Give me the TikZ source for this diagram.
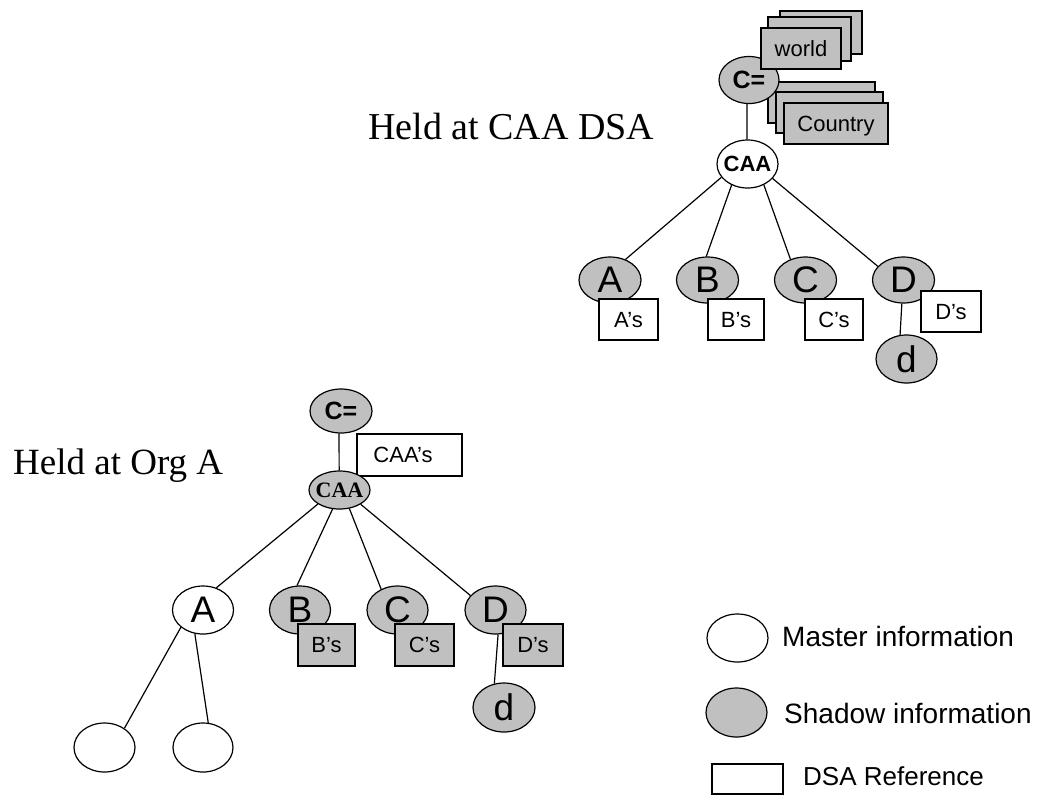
\documentclass[tikz,border=0pt]{standalone}
\usepackage{fontspec}
\setmainfont{Liberation Serif}
\setsansfont{Liberation Sans}
\usetikzlibrary{shapes.geometric}
\newcommand{\fsz}[1]{\fontsize{#1}{#1}\selectfont}
\newcommand{\zb}[1]{\makebox[0pt]{#1}}
\definecolor{shgray}{HTML}{C0C0C0}
\begin{document}
\begin{tikzpicture}[x=1pt,y=-1pt,
  ell/.style={ellipse, draw, line width=1.2pt, inner sep=0pt, minimum width=61pt, minimum height=48pt, font=\sffamily\fsz{37}},
  shell/.style={ell, fill=shgray},
  msell/.style={ell, fill=white},
  dsaref/.style={rectangle, draw, line width=1.2pt, inner sep=0pt, minimum height=41pt, text depth=0pt, font=\sffamily\fsz{22}, fill=white},
  shref/.style={dsaref, fill=shgray},
  conn/.style={line width=1.2pt},
  title/.style={anchor=base west, inner sep=0pt, font=\rmfamily\fsz{38}},
  legtext/.style={anchor=base west, inner sep=0pt, font=\sffamily\fsz{28}}
]
\useasboundingbox (0,0) rectangle (1038,796);

% ---------- Held at CAA DSA ----------
\node[title] (t1) at (368,139) {Held at CAA DSA};

\node[shref, minimum width=107pt] (k3) at (821.5,102.5) {};
\node[shref, minimum width=107pt] (k2) at (829.5,112.5) {};
\node[shref, minimum width=104pt] (k1) at (836,123.5) {Country};

\node[shell, minimum width=60pt, minimum height=47pt, font=\sffamily\bfseries\fsz{25}] (ceq1) at (749,80) {\zb{C=}};

\node[shref, minimum width=82pt, minimum height=43pt] (w3) at (821,32.5) {};
\node[shref, minimum width=83pt, minimum height=44pt] (w2) at (809.5,39) {};
\node[shref, minimum width=80pt] (w1) at (801,48.5) {world};

\node[msell, font=\sffamily\bfseries\fsz{22}] (caa1) at (747.5,164) {\zb{CAA}};

\node[shell, minimum width=62pt, minimum height=46pt] (a1) at (610,280) {\zb{A}};
\node[shell, minimum width=62pt, minimum height=46pt] (b1) at (707.5,280) {\zb{B}};
\node[shell, minimum width=62pt, minimum height=46pt] (c1) at (805.5,280) {\zb{C}};
\node[shell, minimum width=62pt, minimum height=46pt] (d1) at (903.5,280) {\zb{D}};
\node[shell] (dd1) at (906.5,359) {\zb{d}};

\node[dsaref, minimum width=59pt] (ar1) at (628.5,319.5) {A’s};
\node[dsaref, minimum width=56pt] (br1) at (736,319.5) {B’s};
\node[dsaref, minimum width=58pt] (cr1) at (834,319.5) {C’s};
\node[dsaref, minimum width=60pt] (dr1) at (951,311.5) {D’s};

\draw[conn] (ceq1.265) -- (caa1.91);
\draw[conn] (caa1.207) -- (a1.53);
\draw[conn] (caa1.233) -- (b1.93);
\draw[conn] (caa1.308) -- (c1.126);
\draw[conn] (caa1.330) -- (d1.152);
\draw[conn] (d1.266) -- (dd1.105);

% ---------- Held at Org A ----------
\node[title, font=\rmfamily\fsz{37}] (t2) at (13,474) {Held at Org A};

\node[shell, minimum width=62pt, minimum height=44pt, font=\sffamily\bfseries\fsz{25}] (ceq2) at (341,411) {\zb{C=}};
\node[dsaref, minimum width=105pt, minimum height=42pt] (caar) at (409.5,455) {\hspace*{-13pt}CAA’s};
\node[shell, minimum width=61pt, minimum height=38pt, font=\rmfamily\bfseries\fsz{22}] (caa2) at (339.5,490) {\zb{CAA}};

\node[msell] (a2) at (203,610) {\zb{A}};
\node[shell] (b2) at (300,610) {\zb{B}};
\node[shell] (c2) at (397.5,610) {\zb{C}};
\node[shell] (d2) at (495.5,610) {\zb{D}};
\node[shell, minimum width=62pt, minimum height=49pt] (dd2) at (504,707.5) {\zb{d}};

\node[shref, minimum width=57pt, minimum height=42pt] (br2) at (326.5,645) {B’s};
\node[shref, minimum width=59pt, minimum height=42pt] (cr2) at (424.5,645) {C’s};
\node[shref, minimum width=60pt, minimum height=42pt] (dr2) at (533,645) {D’s};

\node[msell, minimum height=49pt] (la) at (104.5,747.5) {};
\node[msell, minimum width=60pt, minimum height=49pt] (lb) at (203,747.5) {};

\draw[conn] (ceq2.265) -- (caa2.91);
\draw[conn] (caa2.213) -- (a2.59);
\draw[conn] (caa2.250) -- (b2.97);
\draw[conn] (caa2.298) -- (c2.128);
\draw[conn] (caa2.326) -- (d2.150);
\draw[conn] (d2.276) -- (dd2.112);
\draw[conn] (a2.218) -- (la.44);
\draw[conn] (a2.251) -- (lb.78);

% ---------- Legend ----------
\node[msell] (lm) at (737.5,638) {};
\node[legtext] (lmt) at (782,646) {Master information};
\node[shell, minimum height=49pt] (ls) at (736.5,712.5) {};
\node[legtext] (lst) at (784,723) {Shadow information};
\node[dsaref, minimum width=71pt, minimum height=30pt] (lr) at (747.5,779) {};
\node[legtext, font=\sffamily\fsz{26}] (lrt) at (803,785) {DSA Reference};
\end{tikzpicture}
\end{document}
